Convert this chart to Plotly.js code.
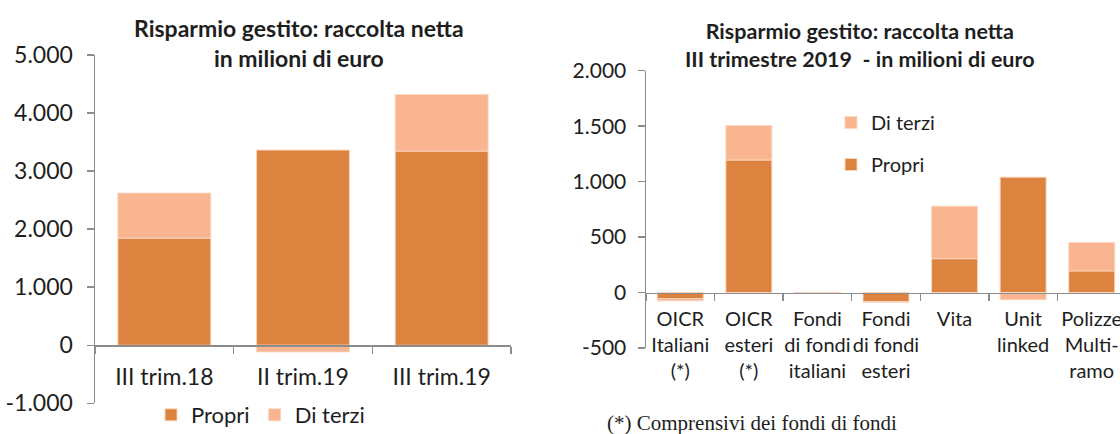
<!DOCTYPE html>
<html>
<head>
<meta charset="utf-8">
<script src="https://cdn.plot.ly/plotly-3.0.1.min.js"></script>
<style>
  html, body { margin: 0; padding: 0; background: #ffffff; overflow: hidden; }
  #chart { width: 1120px; height: 434px; }
</style>
</head>
<body>
<div id="chart"></div>
<script>
// ---- Data ----
const leftCategories = ['III trim.18', 'II trim.19', 'III trim.19'];
const leftPropri = [1845, 3362, 3345];
const leftDiTerzi = [776, -115, 974];

const rightCategories = [
  'OICR<br>Italiani<br>(*)',
  'OICR<br>esteri<br>(*)',
  'Fondi<br>di fondi<br>italiani',
  'Fondi<br>di fondi<br>esteri',
  'Vita',
  'Unit<br>linked',
  'Polizze<br>Multi-<br>ramo'
];
const rightPropri = [-55, 1195, -3, -82, 305, 1040, 195];
const rightDiTerzi = [-20, 310, -4, -5, 474, -65, 256];

const leftTickVals = [-1000, 0, 1000, 2000, 3000, 4000, 5000];
const leftTickText = ['-1.000', '0', '1.000', '2.000', '3.000', '4.000', '5.000'];
const rightTickVals = [-500, 0, 500, 1000, 1500, 2000];
const rightTickText = ['-500', '0', '500', '1.000', '1.500', '2.000'];

const leftTitle = '<b>Risparmio gestito: raccolta netta<br>in milioni di euro</b>';
const rightTitle = '<b>Risparmio gestito: raccolta netta<br>III trimestre 2019  - in milioni di euro</b>';
const footnote = '(*) Comprensivi dei fondi di fondi';

// ---- Styles ----
const COL_PROPRI = '#DC843F';
const COL_TERZI = '#F9B590';
const AXIS_COL = '#8C8C8C';
const TEXT_COL = '#1E1E1E';
const FONT = 'Lato, "Open Sans", sans-serif';

const W = 1120, H = 434;
const lyRange = [-1000, 5000];
const lyDomain = [(H - 403.3) / H, (H - 55) / H];
const ryRange = [-500, 2000];
const ryDomain = [(H - 348) / H, (H - 70.7) / H];
function zeroPos(range, dom) {
  return dom[0] + (0 - range[0]) / (range[1] - range[0]) * (dom[1] - dom[0]);
}

const barLine = { color: 'rgba(251,214,192,0.9)', width: 1 };

const traces = [
  { type: 'bar', name: 'Propri', x: leftCategories, y: leftPropri, xaxis: 'x', yaxis: 'y',
    marker: { color: COL_PROPRI, line: barLine }, legend: 'legend' },
  { type: 'bar', name: 'Di terzi', x: leftCategories, y: leftDiTerzi, xaxis: 'x', yaxis: 'y',
    marker: { color: COL_TERZI, line: barLine }, legend: 'legend' },
  { type: 'bar', name: 'Propri', x: rightCategories, y: rightPropri, xaxis: 'x2', yaxis: 'y2',
    marker: { color: COL_PROPRI, line: barLine }, legend: 'legend3' },
  { type: 'bar', name: 'Di terzi', x: rightCategories, y: rightDiTerzi, xaxis: 'x2', yaxis: 'y2',
    marker: { color: COL_TERZI, line: barLine }, legend: 'legend2' }
];

const xCommon = {
  type: 'category', showline: true, linecolor: AXIS_COL, linewidth: 1.5,
  ticks: 'outside', tickson: 'boundaries', ticklen: 7, tickcolor: AXIS_COL, tickwidth: 1.5,
  showgrid: false, zeroline: false, anchor: 'free', fixedrange: true, tickangle: 0, automargin: false
};
const yCommon = {
  showline: true, linecolor: AXIS_COL, linewidth: 1.5,
  ticks: 'outside', ticklen: 7, tickcolor: AXIS_COL, tickwidth: 1.5,
  showgrid: false, zeroline: false, tickmode: 'array', fixedrange: true, automargin: false
};

const layout = {
  width: W, height: H,
  margin: { l: 0, r: 0, t: 0, b: 0, pad: 0, autoexpand: false },
  paper_bgcolor: '#ffffff', plot_bgcolor: 'rgba(0,0,0,0)',
  barmode: 'relative', bargap: 0.33,
  font: { family: FONT, color: TEXT_COL },
  xaxis: Object.assign({}, xCommon, {
    domain: [95 / W, 511 / W], range: [-0.5, 2.5],
    position: zeroPos(lyRange, lyDomain),
    tickfont: { size: 23, color: TEXT_COL }, ticklabelstandoff: 11
  }),
  yaxis: Object.assign({}, yCommon, {
    domain: lyDomain, range: lyRange,
    tickvals: leftTickVals, ticktext: leftTickText,
    tickfont: { size: 23, color: TEXT_COL }, ticklabelstandoff: 9
  }),
  xaxis2: Object.assign({}, xCommon, {
    domain: [646 / W, 1], range: [-0.5, -0.5 + 7 * (W - 646) / (1126 - 646)],
    position: zeroPos(ryRange, ryDomain),
    tickfont: { size: 20, color: TEXT_COL }, ticklabelstandoff: 8
  }),
  yaxis2: Object.assign({}, yCommon, {
    domain: ryDomain, range: ryRange, anchor: 'x2',
    tickvals: rightTickVals, ticktext: rightTickText,
    tickfont: { size: 21, color: TEXT_COL }, ticklabelstandoff: 7
  }),
  showlegend: true,
  legend: {
    orientation: 'h', x: 151 / W, xanchor: 'left', y: (H - 394) / H, yanchor: 'top',
    font: { size: 22, color: TEXT_COL }, bgcolor: 'rgba(0,0,0,0)', traceorder: 'normal'
  },
  legend2: {
    x: 831 / W, xanchor: 'left', y: (H - 103) / H, yanchor: 'top',
    font: { size: 20, color: TEXT_COL }, bgcolor: 'rgba(0,0,0,0)'
  },
  legend3: {
    x: 831 / W, xanchor: 'left', y: (H - 145) / H, yanchor: 'top',
    font: { size: 20, color: TEXT_COL }, bgcolor: 'rgba(0,0,0,0)'
  },
  annotations: [
    { text: leftTitle, xref: 'paper', yref: 'paper', x: 299 / W, y: (H - 12) / H,
      xanchor: 'center', yanchor: 'top', showarrow: false, align: 'center',
      font: { size: 23, family: FONT, color: TEXT_COL } },
    { text: rightTitle, xref: 'paper', yref: 'paper', x: 860 / W, y: (H - 16) / H,
      xanchor: 'center', yanchor: 'top', showarrow: false, align: 'center',
      font: { size: 21.5, family: FONT, color: TEXT_COL } },
    { text: footnote, xref: 'paper', yref: 'paper', x: 605 / W, y: (H - 409) / H,
      xanchor: 'left', yanchor: 'top', showarrow: false,
      font: { size: 21, family: '"Liberation Serif", "Times New Roman", serif', color: TEXT_COL } }
  ]
};

Plotly.newPlot('chart', traces, layout, { staticPlot: true, displayModeBar: false });
</script>
</body>
</html>
